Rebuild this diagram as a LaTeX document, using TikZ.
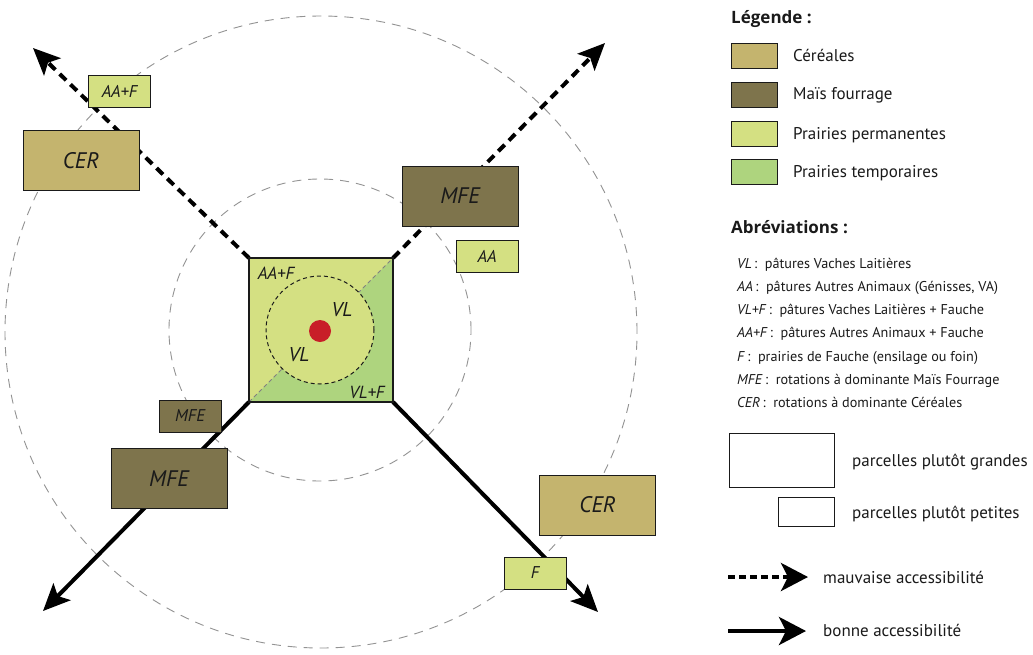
\documentclass[tikz,border=0pt]{standalone}
\usepackage{fontspec}
\setmainfont{PT Sans}
\newfontfamily\titlefont{Open Sans}
\usetikzlibrary{arrows.meta}
\definecolor{perm}{HTML}{D4E082}
\definecolor{temp}{HTML}{AED47E}
\definecolor{cer}{HTML}{C4B46E}
\definecolor{mfe}{HTML}{7E744C}
\definecolor{dot}{HTML}{C81E28}
\definecolor{ink}{HTML}{1A1A1A}
\tikzset{
  greycirc/.style={draw=gray!85, line width=0.9pt, dash pattern=on 9pt off 7pt},
  bigbox/.style={draw=ink, line width=1pt, minimum width=116pt, minimum height=60pt, inner sep=0pt, font=\fontsize{22.5}{24}\selectfont\itshape, text=ink},
  smallbox/.style={draw=ink, line width=1pt, minimum width=62pt, minimum height=32pt, inner sep=0pt, font=\fontsize{17}{19}\selectfont\itshape, text=ink},
  badroad/.style={line width=4pt, dash pattern=on 9pt off 6pt, -{Stealth[length=27pt,width=24pt,inset=6pt]}},
  goodroad/.style={line width=4pt, -{Stealth[length=27pt,width=24pt,inset=6pt]}},
  sqlabel/.style={font=\fontsize{17.5}{19}\selectfont\itshape, text=ink},
  vllabel/.style={font=\fontsize{20}{22}\selectfont\itshape, text=ink},
  legtitle/.style={anchor=base west, inner sep=0pt, font=\titlefont\fontsize{17}{19}\selectfont\bfseries, text=ink},
  legtext/.style={anchor=base west, inner sep=0pt, font=\fontsize{17}{19}\selectfont, text=ink},
  abbtext/.style={anchor=base west, inner sep=0pt, font=\fontsize{14.2}{16}\selectfont, text=ink},
  swatch/.style={draw=ink, line width=1pt, minimum width=46pt, minimum height=25pt, inner sep=0pt},
  legarrowbad/.style={line width=4pt, dash pattern=on 7pt off 4pt, -{Stealth[length=27pt,width=28pt,inset=7pt]}},
  legarrowgood/.style={line width=4pt, -{Stealth[length=27pt,width=28pt,inset=7pt]}}
}
\begin{document}
\begin{tikzpicture}[x=1pt,y=-1pt]
\useasboundingbox[fill=white] (0,0) rectangle (1033,654);

% concentric zones
\draw[greycirc] (321,332) circle[radius=316pt];
\draw[greycirc] (320,330) circle[radius=151pt];

% central square (node for anchors)
\node[minimum size=144pt, inner sep=0pt, outer sep=0pt] (sq) at (321,330) {};

% roads
\coordinate (tipNW) at (33,48);
\coordinate (tipNE) at (605,43);
\coordinate (tipSW) at (43,611);
\coordinate (tipSE) at (598,612);
\draw[badroad] (sq.north west) -- (tipNW);
\draw[badroad] (sq.north east) -- (tipNE);
\draw[goodroad] (sq.south west) -- (tipSW);
\draw[goodroad] (sq.south east) -- (tipSE);

% square fill
\fill[perm] (sq.north west) rectangle (sq.south east);
\fill[temp] (sq.south west) -- (sq.south east) -- (sq.north east) -- cycle;
\draw[gray, line width=0.8pt, dash pattern=on 4pt off 3pt] (sq.south west) -- (sq.north east);
\node[circle, draw=ink, fill=perm, line width=1pt, dash pattern=on 4pt off 3pt, minimum size=108pt, inner sep=0pt] (inner) at (320,330) {};
\node[circle, fill=dot, minimum size=22pt, inner sep=0pt] (farm) at (320,331) {};
\draw[ink, line width=1.2pt] (sq.north west) rectangle (sq.south east);

\node[sqlabel] (lAAF) at (276,273) {AA+F};
\node[vllabel] (lVL1) at (342,310) {VL};
\node[vllabel] (lVL2) at (299,355) {VL};
\node[sqlabel] (lVLF) at (367,392) {VL+F};

% parcels
\node[smallbox, fill=perm] (aaf) at (119.5,91) {AA+F};
\node[bigbox, fill=cer] (cer1) at (81,160.5) {CER};
\node[bigbox, fill=mfe] (mfe1) at (460,196) {MFE};
\node[smallbox, fill=perm] (aa) at (487,256) {AA};
\node[smallbox, fill=mfe] (mfe2) at (190,416) {MFE};
\node[bigbox, fill=mfe] (mfe3) at (169,478.5) {MFE};
\node[bigbox, fill=cer] (cer2) at (597.5,505) {CER};
\node[smallbox, fill=perm] (f) at (535,573) {F};

% legend
\node[legtitle] (tleg) at (731,23) {Légende :};
\node[swatch, fill=cer] (s1) at (754,56) {};
\node[swatch, fill=mfe] (s2) at (754,94.5) {};
\node[swatch, fill=perm] (s3) at (754,133.5) {};
\node[swatch, fill=temp] (s4) at (754,171.5) {};
\node[legtext] (t1) at (793,61) {Céréales};
\node[legtext] (t2) at (793,99.5) {Maïs fourrage};
\node[legtext] (t3) at (793,139) {Prairies permanentes};
\node[legtext] (t4) at (793,177) {Prairies temporaires};

\node[legtitle] (tabb) at (731,233) {Abréviations :};
\node[abbtext] (a1) at (737,268) {\textit{VL}\,:~~pâtures Vaches Laitières};
\node[abbtext] (a2) at (737,291.3) {\textit{AA}\,:~~pâtures Autres Animaux (Génisses, VA)};
\node[abbtext] (a3) at (737,314.6) {\textit{VL+F}\,:~~pâtures Vaches Laitières + Fauche};
\node[abbtext] (a4) at (737,337.9) {\textit{AA+F}\,:~~pâtures Autres Animaux + Fauche};
\node[abbtext] (a5) at (737,361.2) {\textit{F}\,:~~prairies de Fauche (ensilage ou foin)};
\node[abbtext] (a6) at (737,384.5) {\textit{MFE}\,:~~rotations à dominante Maïs Fourrage};
\node[abbtext] (a7) at (737,407.8) {\textit{CER}\,:~~rotations à dominante Céréales};

\node[draw=ink, line width=1pt, minimum width=105pt, minimum height=54pt, inner sep=0pt] (pbig) at (781.5,460) {};
\node[draw=ink, line width=1pt, minimum width=56pt, minimum height=29pt, inner sep=0pt] (psmall) at (806,511.5) {};
\node[legtext] (tbig) at (852,466) {parcelles plutôt grandes};
\node[legtext] (tsmall) at (852,518) {parcelles plutôt petites};

\coordinate (lb1) at (728,577);
\coordinate (lb2) at (808,577);
\coordinate (lg1) at (728,631);
\coordinate (lg2) at (806,631);
\draw[legarrowbad] (lb1) -- (lb2);
\draw[legarrowgood] (lg1) -- (lg2);
\node[legtext] (tbad) at (823,583) {mauvaise accessibilité};
\node[legtext] (tgood) at (823,636) {bonne accessibilité};
\end{tikzpicture}
\end{document}
